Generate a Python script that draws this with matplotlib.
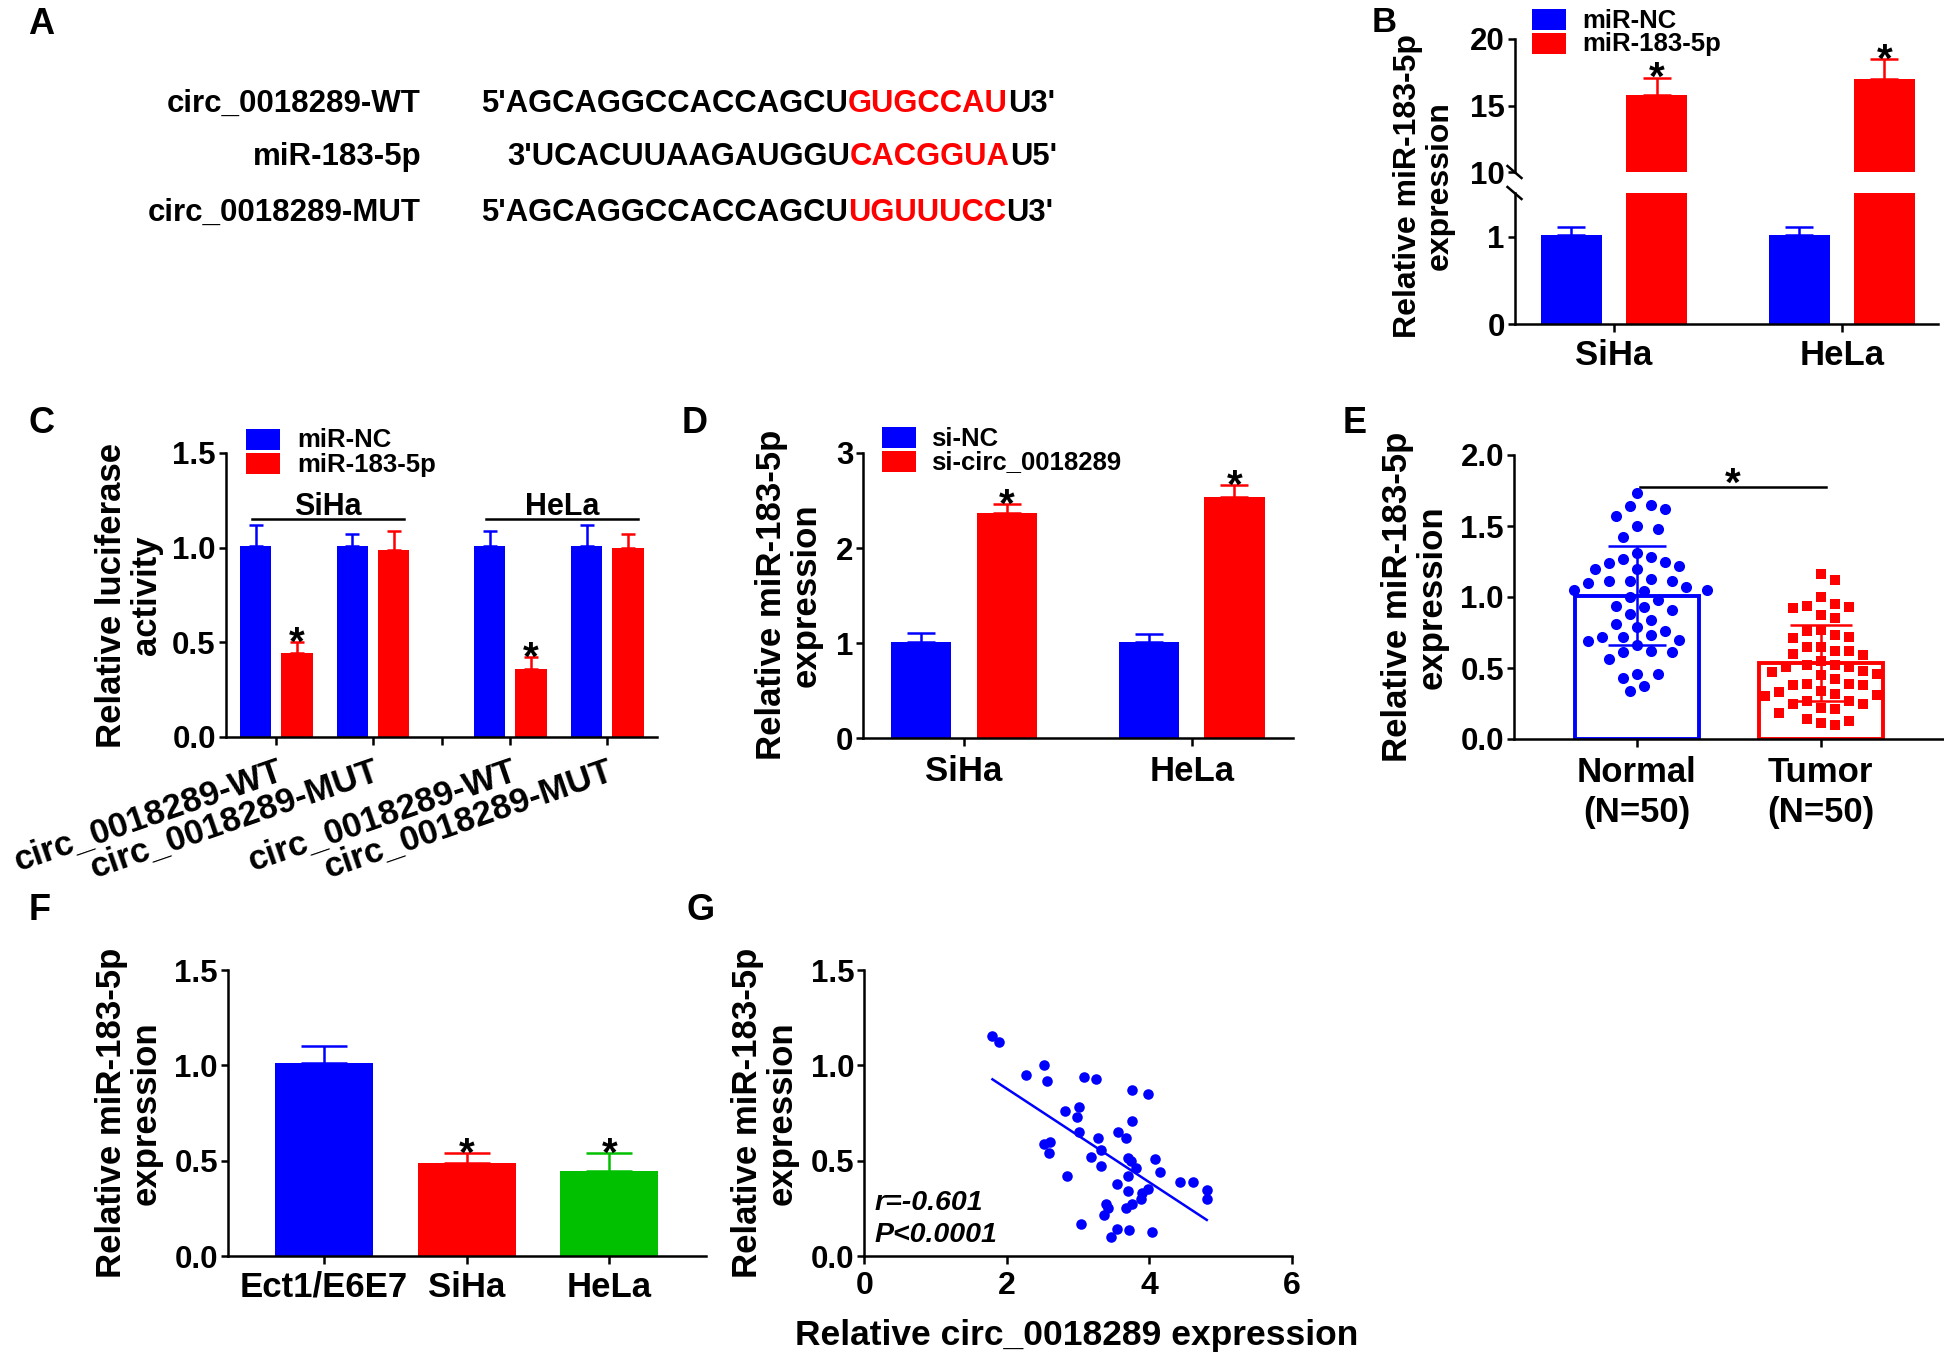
import numpy as np
import matplotlib
matplotlib.use('Agg')
import matplotlib.pyplot as plt
from matplotlib.patches import Rectangle
from matplotlib.ticker import FormatStrFormatter

plt.rcParams['font.family'] = ['Liberation Sans', 'DejaVu Sans']
plt.rcParams['font.weight'] = 'bold'
plt.rcParams['axes.linewidth'] = 1.8
plt.rcParams['xtick.major.width'] = 1.8
plt.rcParams['ytick.major.width'] = 1.8
plt.rcParams['xtick.major.size'] = 5.5
plt.rcParams['ytick.major.size'] = 5
plt.rcParams['xtick.major.pad'] = 5
plt.rcParams['ytick.major.pad'] = 2
plt.rcParams['xtick.labelsize'] = 25
plt.rcParams['ytick.labelsize'] = 22.5

BLUE, RED, GREEN = '#0000FF', '#FF0000', '#00C000'

# ---------------- data ----------------
# Panel A
seq_labels = ['circ_0018289-WT', 'miR-183-5p', 'circ_0018289-MUT']
seq_parts = [("5'AGCAGGCCACCAGCU", "GUGCCAU", "U3'"),
             ("3'UCACUUAAGAUGGU", "CACGGUA", "U5'"),
             ("5'AGCAGGCCACCAGCU", "UGUUUCC", "U3'")]

# Panel B
b_cells = ['SiHa', 'HeLa']
b_groups = ['miR-NC', 'miR-183-5p']
b_nc_mean = [1.02, 1.02]
b_nc_err = [0.09, 0.09]
b_mir_mean = [15.8, 17.0]
b_mir_err = [1.3, 1.5]

# Panel C
c_labels = ['circ_0018289-WT', 'circ_0018289-MUT', 'circ_0018289-WT', 'circ_0018289-MUT']
c_cells = ['SiHa', 'HeLa']
c_groups = ['miR-NC', 'miR-183-5p']
c_nc_mean = [1.01, 1.01, 1.01, 1.01]
c_nc_err = [0.11, 0.06, 0.08, 0.11]
c_mir_mean = [0.445, 0.99, 0.36, 1.0]
c_mir_err = [0.055, 0.10, 0.06, 0.07]

# Panel D
d_cells = ['SiHa', 'HeLa']
d_groups = ['si-NC', 'si-circ_0018289']
d_nc_mean = [1.01, 1.01]
d_nc_err = [0.10, 0.08]
d_si_mean = [2.37, 2.54]
d_si_err = [0.09, 0.12]

# Panel E
e_groups = ['Normal\n(N=50)', 'Tumor\n(N=50)']
e_mean = [1.01, 0.535]
e_sd = [0.35, 0.265]
e_normal = [1.73, 1.64, 1.62, 1.65, 1.57, 1.48, 1.50, 1.42, 1.31, 1.28,
            1.25, 1.22, 1.20, 1.20, 1.24, 1.27, 1.11, 1.11, 1.07, 1.05,
            1.04, 1.05, 1.10, 1.11, 1.13, 1.00, 0.98, 0.94, 0.91, 0.93,
            0.88, 0.84, 0.79, 0.76, 0.81, 0.73, 0.72, 0.69, 0.66, 0.70,
            0.72, 0.62, 0.61, 0.61, 0.56, 0.43, 0.46, 0.46, 0.34, 0.37]
e_tumor = [1.16, 1.12, 1.00, 0.94, 0.92, 0.93, 0.95, 0.85, 0.87, 0.77,
           0.73, 0.71, 0.72, 0.76, 0.65, 0.65, 0.62, 0.59, 0.60, 0.62,
           0.52, 0.51, 0.51, 0.52, 0.55, 0.48, 0.47, 0.46, 0.45, 0.39,
           0.38, 0.38, 0.39, 0.42, 0.34, 0.32, 0.30, 0.27, 0.25, 0.25,
           0.27, 0.31, 0.18, 0.21, 0.13, 0.14, 0.10, 0.11, 0.33, 0.22]

# Panel F
f_cells = ['Ect1/E6E7', 'SiHa', 'HeLa']
f_mean = [1.01, 0.49, 0.445]
f_err = [0.09, 0.05, 0.095]

# Panel G
g_circ = [1.80, 1.89, 2.27, 2.52, 2.56, 3.08, 3.26, 3.76, 3.99, 2.82,
          3.02, 2.99, 3.76, 3.01, 3.57, 3.68, 3.28, 2.52, 2.61, 2.60,
          3.32, 3.18, 3.71, 3.74, 4.08, 3.32, 3.81, 4.15, 3.70, 2.85,
          3.55, 4.43, 4.61, 3.70, 3.99, 3.90, 4.81, 4.81, 3.89, 3.39,
          3.42, 3.76, 3.68, 3.37, 3.04, 3.55, 3.72, 3.47, 4.04]
g_mir = [1.156, 1.12, 0.95, 1.00, 0.92, 0.94, 0.93, 0.87, 0.85, 0.76,
         0.78, 0.73, 0.71, 0.65, 0.65, 0.62, 0.62, 0.59, 0.60, 0.54,
         0.555, 0.52, 0.515, 0.50, 0.51, 0.47, 0.46, 0.44, 0.42, 0.42,
         0.38, 0.39, 0.39, 0.34, 0.35, 0.33, 0.345, 0.30, 0.30, 0.275,
         0.25, 0.275, 0.25, 0.215, 0.17, 0.14, 0.135, 0.10, 0.125]
g_r_text = 'r=-0.601'
g_p_text = 'P<0.0001'

# ---------------- layout helpers ----------------
W, H = 1944, 1354
fig = plt.figure(figsize=(W / 100, H / 100), dpi=100)


def axpx(l, r, t, b):
    return fig.add_axes([l / W, 1 - b / H, (r - l) / W, (b - t) / H])


def ftext(x, y, s, **kw):
    return fig.text(x / W, 1 - y / H, s, **kw)


def base(ax):
    for s in ['top', 'right']:
        ax.spines[s].set_visible(False)
    ax.tick_params(direction='out')


def legend_px(x0, y0, labels, colors, tx, w=34, h=21, pitch=24, fs=18.5):
    for i, (lab, c) in enumerate(zip(labels, colors)):
        y = y0 + i * pitch
        fig.add_artist(Rectangle((x0 / W, 1 - (y + h) / H), w / W, h / H,
                                 transform=fig.transFigure, color=c, lw=0))
        ftext(tx, y + h / 2 + 1, lab, fontsize=fs, va='center', ha='left')


def ylab(x, y, s, fs=25):
    ftext(x, y, s, rotation=90, fontsize=fs, ha='center', va='center',
          multialignment='center', linespacing=1.05)


def letter(x, y, s, fs=26):
    ftext(x, y, s, fontsize=fs, ha='left', va='baseline')


def errbars(ax, x, y, e, color, cap, both=False):
    lo = e if both else np.zeros(len(e))
    ax.errorbar(x, y, yerr=[lo, e], fmt='none', ecolor=color,
                elinewidth=1.8, capsize=cap, capthick=1.8, zorder=3)


def star(ax, x, y, fs=29):
    ax.annotate('*', xy=(x, y), xytext=(0, -9), textcoords='offset points',
                ha='center', va='baseline', fontsize=fs, annotation_clip=False)


def swarm(ax, xc, vals, dist_px, step_px):
    vals = np.asarray(vals, float)
    disp = ax.transData.transform(np.column_stack([np.full(len(vals), xc), vals]))
    y = disp[:, 1]
    x0 = disp[0, 0]
    order = np.argsort(y)[::-1]
    px, py = [], []
    offs = np.zeros(len(vals))
    cands = [0.0]
    for j in range(1, 60):
        cands += [j * step_px, -j * step_px]
    for i in order:
        for c in cands:
            if all((c - a) ** 2 + (y[i] - b) ** 2 >= dist_px ** 2 for a, b in zip(px, py)):
                break
        px.append(c); py.append(y[i]); offs[i] = c
    data = ax.transData.inverted().transform(np.column_stack([x0 + offs, y]))
    return data[:, 0]


# ---------------- Panel A ----------------
axA = fig.add_axes([0, 0, 1, 1])
axA.axis('off')
axA.set_xlim(0, W)
axA.set_ylim(H, 0)
letter(28, 34, 'A', fs=26)
row_base = [112, 165, 221]
row_start = [481, 507, 481]
for lab, parts, yb, xs in zip(seq_labels, seq_parts, row_base, row_start):
    axA.text(421, yb, lab, fontsize=22.5, ha='right', va='baseline')
    t = axA.text(xs, yb, parts[0], fontsize=22.3, ha='left', va='baseline', color='k')
    for part, col in zip(parts[1:], [RED, 'k']):
        t = axA.annotate(part, xy=(1, 0), xycoords=t, ha='left', va='bottom',
                         fontsize=22.3, color=col)

# ---------------- Panel B ----------------
xb = np.arange(len(b_cells))
ob, wb = 0.187, 0.268
axBu = axpx(1514.5, 1938, 39, 172)
axBl = axpx(1514.5, 1938, 193, 324)
for ax in (axBu, axBl):
    base(ax)
    ax.bar(xb - ob, b_nc_mean, wb, color=BLUE)
    ax.bar(xb + ob, b_mir_mean, wb, color=RED)
    errbars(ax, xb - ob, b_nc_mean, b_nc_err, BLUE, 10)
    errbars(ax, xb + ob, b_mir_mean, b_mir_err, RED, 10)
    ax.set_xlim(-0.437, 1.423)
axBu.set_ylim(10, 20)
axBu.set_yticks([10, 15, 20])
axBu.spines['bottom'].set_visible(False)
axBu.tick_params(bottom=False, labelbottom=False)
axBl.set_ylim(0, 1.5)
axBl.set_yticks([0, 1])
axBl.set_xticks(xb)
axBl.set_xticklabels(b_cells)
for i in range(len(b_cells)):
    star(axBu, xb[i] + ob, b_mir_mean[i] + b_mir_err[i])
dx, dy = 7 / 423.5, 6 / 133
axBu.plot([-dx, dx], [dy, -dy], color='k', lw=1.8, transform=axBu.transAxes, clip_on=False)
dy2 = 6 / 131
axBl.plot([-dx, dx], [1 + dy2, 1 - dy2], color='k', lw=1.8, transform=axBl.transAxes, clip_on=False)
legend_px(1532, 9, b_groups, [BLUE, RED], 1582)
ylab(1424, 186, 'Relative miR-183-5p\nexpression', fs=23)
letter(1372, 32, 'B', fs=25)

# ---------------- Panel C ----------------
axC = axpx(225.5, 657, 453, 737)
base(axC)
pc = np.array([0, 1, 2.42, 3.42])
oc, wc = 0.214, 0.324
axC.bar(pc - oc, c_nc_mean, wc, color=BLUE)
axC.bar(pc + oc, c_mir_mean, wc, color=RED)
errbars(axC, pc - oc, c_nc_mean, c_nc_err, BLUE, 5)
errbars(axC, pc + oc, c_mir_mean, c_mir_err, RED, 5)
for i in (0, 2):
    star(axC, pc[i] + oc, c_mir_mean[i] + c_mir_err[i])
axC.set_xlim(-0.524, 3.934)
axC.set_ylim(0, 1.5)
axC.set_yticks([0, 0.5, 1.0, 1.5])
axC.yaxis.set_major_formatter(FormatStrFormatter('%.1f'))
gap = (pc[1] + pc[2]) / 2
axC.set_xticks([pc[0], pc[1], gap, pc[2], pc[3]])
axC.set_xticklabels([c_labels[0], c_labels[1], '', c_labels[2], c_labels[3]],
                    rotation=19, ha='right', rotation_mode='anchor', fontsize=25)
axC.tick_params(axis='x', pad=7)
for g, cell in enumerate(c_cells):
    x1, x2 = pc[2 * g] - 0.255, pc[2 * g + 1] + 0.322
    axC.plot([x1, x2], [1.15, 1.15], color='k', lw=1.8, clip_on=False)
    axC.annotate(cell, xy=((x1 + x2) / 2, 1.15), xytext=(0, 3), textcoords='offset points',
                 ha='center', va='baseline', fontsize=22)
legend_px(246, 429, c_groups, [BLUE, RED], 297)
ylab(129, 595, 'Relative luciferase\nactivity')
letter(28, 433, 'C')

# ---------------- Panel D ----------------
axD = axpx(863, 1293, 453, 738)
base(axD)
xd = np.arange(len(d_cells))
od, wd = 0.188, 0.266
axD.bar(xd - od, d_nc_mean, wd, color=BLUE)
axD.bar(xd + od, d_si_mean, wd, color=RED)
errbars(axD, xd - od, d_nc_mean, d_nc_err, BLUE, 10.4)
errbars(axD, xd + od, d_si_mean, d_si_err, RED, 10.4)
for i in range(len(d_cells)):
    star(axD, xd[i] + od, d_si_mean[i] + d_si_err[i])
axD.set_xlim(-0.4436, 1.445)
axD.set_ylim(0, 3)
axD.set_yticks([0, 1, 2, 3])
axD.set_xticks(xd)
axD.set_xticklabels(d_cells)
axD.tick_params(axis='x', pad=7)
legend_px(882, 427, d_groups, [BLUE, RED], 931)
ylab(789, 595, 'Relative miR-183-5p\nexpression')
letter(682, 433, 'D')

# ---------------- Panel E ----------------
axE = axpx(1513.6, 1943, 455, 739)
base(axE)
xe = np.arange(2)
axE.set_xlim(-0.67, 1.665)
axE.set_ylim(0, 2.0)
axE.bar(xe, e_mean, 0.674, facecolor='none', edgecolor=[BLUE, RED], linewidth=2.8, zorder=2)
errbars(axE, xe[:1], e_mean[:1], e_sd[:1], BLUE, 21, both=True)
errbars(axE, xe[1:], e_mean[1:], e_sd[1:], RED, 22, both=True)
xn = swarm(axE, 0, e_normal, 14.5, 7.0)
xt = swarm(axE, 1, e_tumor, 14.0, 7.0)
axE.plot(xn, e_normal, 'o', color=BLUE, ms=8.0, mew=0, zorder=4, clip_on=False)
axE.plot(xt, e_tumor, 's', color=RED, ms=7.4, mew=0, zorder=4, clip_on=False)
axE.plot([0.017, 1.027], [1.775, 1.775], color='k', lw=1.8)
axE.annotate('*', xy=(0.522, 1.775), xytext=(0, -6), textcoords='offset points',
             ha='center', va='baseline', fontsize=29)
axE.set_yticks([0, 0.5, 1.0, 1.5, 2.0])
axE.yaxis.set_major_formatter(FormatStrFormatter('%.1f'))
axE.set_xticks(xe)
axE.set_xticklabels(e_groups, linespacing=1.25)
axE.tick_params(axis='x', pad=7)
ylab(1415, 597, 'Relative miR-183-5p\nexpression')
letter(1343, 433, 'E')

# ---------------- Panel F ----------------
axF = axpx(227.7, 706, 970, 1256)
base(axF)
xf = np.arange(len(f_cells))
fcol = [BLUE, RED, GREEN]
axF.bar(xf, f_mean, 0.686, color=fcol)
for i in range(len(f_cells)):
    errbars(axF, xf[i:i + 1], f_mean[i:i + 1], f_err[i:i + 1], fcol[i], 16.9)
for i in (1, 2):
    star(axF, xf[i], f_mean[i] + f_err[i])
axF.set_xlim(-0.672, 2.676)
axF.set_ylim(0, 1.5)
axF.set_yticks([0, 0.5, 1.0, 1.5])
axF.yaxis.set_major_formatter(FormatStrFormatter('%.1f'))
axF.set_xticks(xf)
axF.set_xticklabels(f_cells)
ylab(129, 1113, 'Relative miR-183-5p\nexpression')
letter(29, 920, 'F')

# ---------------- Panel G ----------------
axG = axpx(864.3, 1291.5, 970, 1256)
base(axG)
axG.set_xlim(0, 6)
axG.set_ylim(0, 1.5)
axG.plot(g_circ, g_mir, 'o', color=BLUE, ms=7.6, mew=0, zorder=3)
k, b0 = np.polyfit(g_circ, g_mir, 1)
xx = np.array([min(g_circ), max(g_circ)])
axG.plot(xx, k * xx + b0, color=BLUE, lw=1.8)
axG.set_xticks([0, 2, 4, 6])
axG.set_yticks([0, 0.5, 1.0, 1.5])
axG.yaxis.set_major_formatter(FormatStrFormatter('%.1f'))
axG.tick_params(axis='x', labelsize=23)
axG.text(0.15, 0.278, g_r_text, style='italic', fontsize=20.5, va='center', ha='left')
axG.text(0.15, 0.11, g_p_text, style='italic', fontsize=20.5, va='center', ha='left')
ftext(1077, 1335, 'Relative circ_0018289 expression', fontsize=25.5, ha='center', va='center')
ylab(765, 1113, 'Relative miR-183-5p\nexpression')
letter(686, 920, 'G')

fig.savefig('out.png', dpi=100)
